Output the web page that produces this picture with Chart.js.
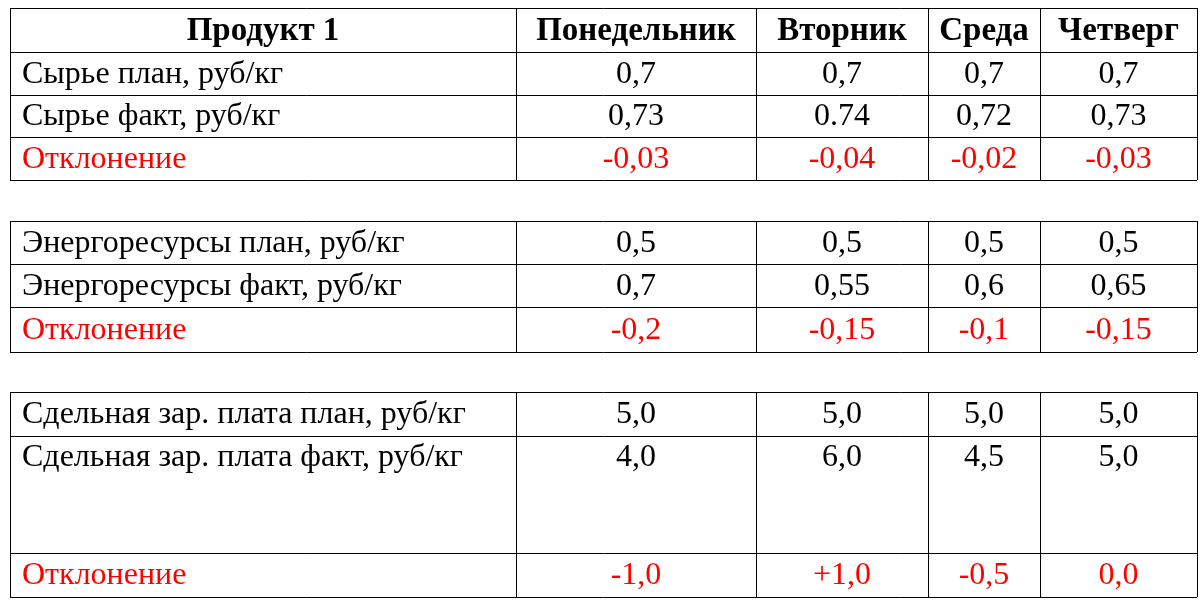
<!DOCTYPE html>
<html><head><meta charset="utf-8">
<script src="https://cdn.jsdelivr.net/npm/chart.js@4"></script>
<style>html,body{margin:0;padding:0;background:#fff}</style>
</head><body>
<canvas id="c" width="1200" height="605"></canvas>
<script>
const header = ["Продукт 1","Понедельник","Вторник","Среда","Четверг"];
const days = ["Понедельник","Вторник","Среда","Четверг"];
const rawLabels = ["Сырье план, руб/кг","Сырье факт, руб/кг","Отклонение"];
const rawValues = [["0,7","0,7","0,7","0,7"],["0,73","0.74","0,72","0,73"],["-0,03","-0,04","-0,02","-0,03"]];
const energyLabels = ["Энергоресурсы план, руб/кг","Энергоресурсы факт, руб/кг","Отклонение"];
const energyValues = [["0,5","0,5","0,5","0,5"],["0,7","0,55","0,6","0,65"],["-0,2","-0,15","-0,1","-0,15"]];
const wageLabels = ["Сдельная зар. плата план, руб/кг","Сдельная зар. плата факт, руб/кг","Отклонение"];
const wageValues = [["5,0","5,0","5,0","5,0"],["4,0","6,0","4,5","5,0"],["-1,0","+1,0","-0,5","0,0"]];

const colEdges = [10,516,756,928,1040,1197];
const blocks = [
  {rows:[8,52,95,137,180], labels:rawLabels, values:rawValues, header:true},
  {rows:[221,264,307,352], labels:energyLabels, values:energyValues},
  {rows:[392,436,553,597], labels:wageLabels, values:wageValues, topAlign:[false,true,false]}
];

const tablePlugin = {
  id:'table',
  afterDraw(chart){
    const ctx = chart.ctx, X = chart.scales.x, Y = chart.scales.y;
    const px = v=>X.getPixelForValue(v), py = v=>Y.getPixelForValue(v);
    ctx.save();
    ctx.strokeStyle = '#000'; ctx.lineWidth = 1;
    ctx.textBaseline = 'middle';
    blocks.forEach(b=>{
      const r = b.rows;
      ctx.beginPath();
      r.forEach(y=>{ctx.moveTo(px(colEdges[0]),Math.round(py(y))+0.5);ctx.lineTo(px(colEdges[5]),Math.round(py(y))+0.5);});
      colEdges.forEach(x=>{ctx.moveTo(Math.round(px(x))+0.5,py(r[0]));ctx.lineTo(Math.round(px(x))+0.5,py(r[r.length-1]));});
      ctx.stroke();
      let off = 0;
      if(b.header){
        ctx.font = 'bold 33px "Liberation Serif"'; ctx.fillStyle='#000'; ctx.textAlign='center';
        header.forEach((h,i)=>ctx.fillText(h,(px(colEdges[i])+px(colEdges[i+1]))/2,(py(r[0])+py(r[1]))/2+1));
        off = 1;
      }
      ctx.font = '32px "Liberation Serif"';
      b.labels.forEach((lab,j)=>{
        const y0 = r[j+off], y1 = r[j+off+1];
        const red = j===2;
        ctx.fillStyle = red ? '#ff0000' : '#000';
        const cy = (b.topAlign && b.topAlign[j]) ? py(y0)+22 : (py(y0)+py(y1))/2+1;
        ctx.textAlign='left';
        ctx.fillText(lab, px(colEdges[0])+12, cy);
        ctx.textAlign='center';
        b.values[j].forEach((v,i)=>ctx.fillText(v,(px(colEdges[i+1])+px(colEdges[i+2]))/2,cy));
      });
    });
    ctx.restore();
  }
};

new Chart(document.getElementById('c'),{
  type:'scatter',
  data:{datasets:[{data:[]}]},
  options:{
    responsive:false, animation:false, devicePixelRatio:1,
    layout:{padding:0},
    plugins:{legend:{display:false},tooltip:{enabled:false}},
    scales:{
      x:{type:'linear',min:0,max:1200,display:false},
      y:{type:'linear',min:0,max:605,reverse:true,display:false}
    }
  },
  plugins:[tablePlugin]
});
</script>
</body></html>
